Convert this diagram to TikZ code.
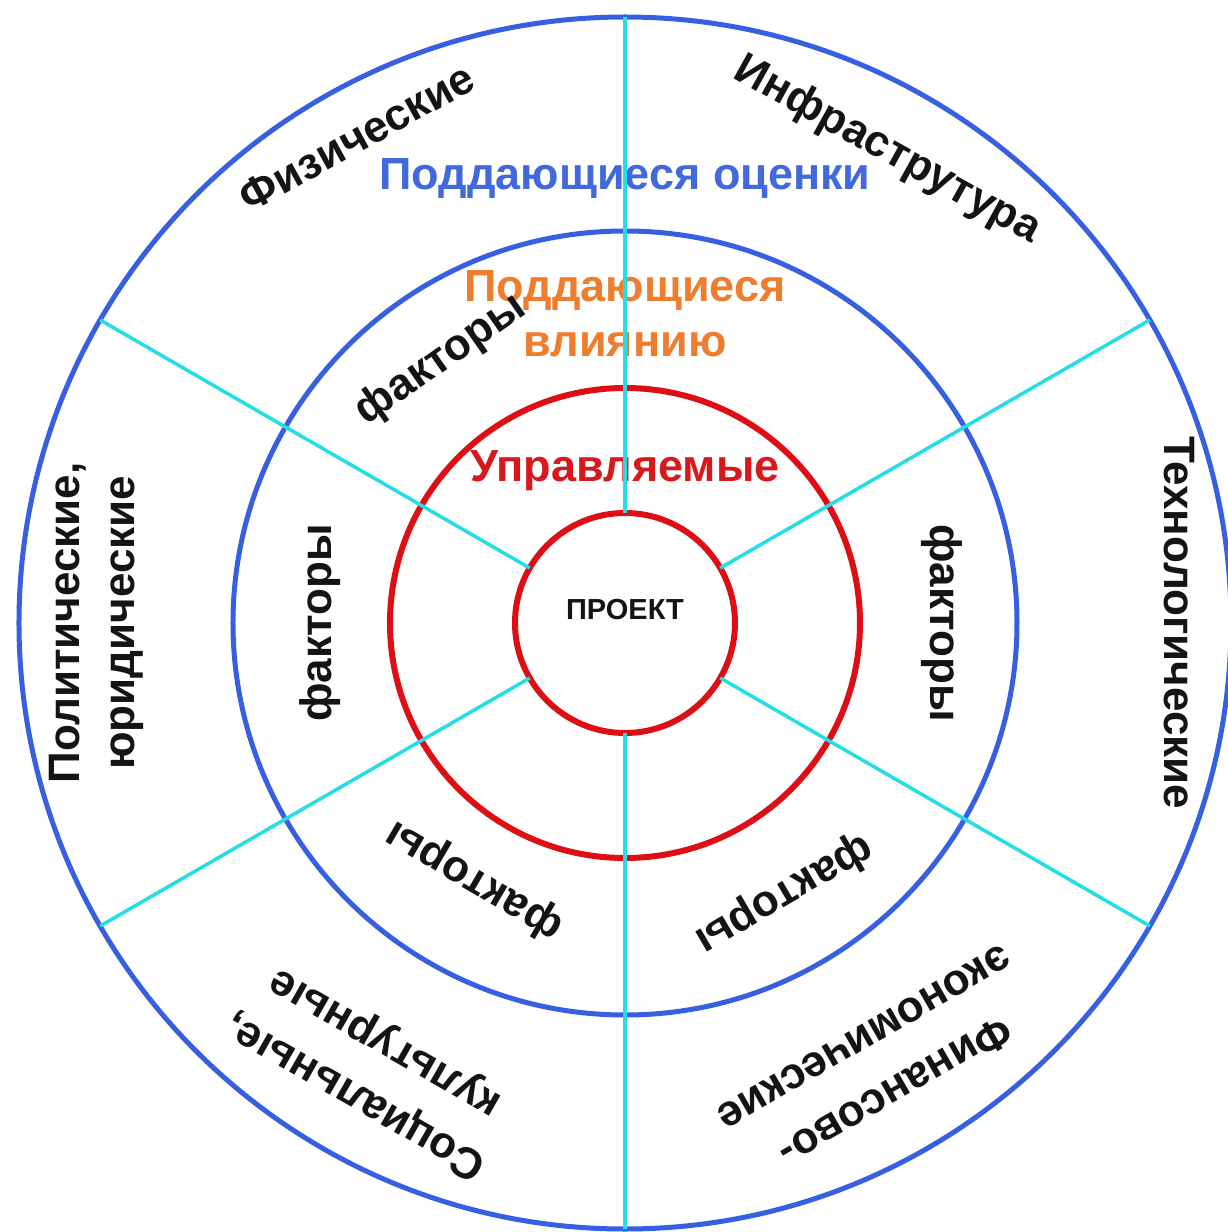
\documentclass[tikz,border=0pt]{standalone}
\usepackage{fontspec}
\setmainfont{Liberation Sans}
\definecolor{cblue}{RGB}{55,95,225}
\definecolor{ctblue}{RGB}{65,105,220}
\definecolor{corange}{RGB}{238,125,45}
\definecolor{cred}{RGB}{222,15,20}
\definecolor{ctred}{RGB}{215,25,30}
\definecolor{ccyan}{RGB}{35,222,228}
\definecolor{cdark}{RGB}{20,20,20}
\begin{document}
\begin{tikzpicture}[x=1pt,y=1pt,
  ringblue/.style={circle, draw=cblue, line width=5pt, inner sep=0pt, outer sep=0pt},
  ringred/.style={circle, draw=cred, line width=6pt, inner sep=0pt, outer sep=0pt},
  spoke/.style={draw=ccyan, line width=3.5pt},
  lbl/.style={font=\bfseries\fontsize{44}{52}\selectfont, inner sep=0pt, text=cdark},
  clbl/.style={font=\bfseries\fontsize{45}{52}\selectfont, inner sep=0pt}]
\useasboundingbox (-625,-609) rectangle (603,623);
\clip (-625,-609) rectangle (603,623);
\fill[white] (-625,-609) rectangle (603,623);
% rings
\node[ringblue, minimum size=1212pt] (c3) at (0,0) {};
\node[ringblue, minimum size=784pt] (c2) at (0,0) {};
\node[ringred, minimum size=470pt] (c1) at (0,0) {};
\node[ringred, minimum size=220pt] (c0) at (0,0) {};
% centre label
\node[font=\bfseries\fontsize{29}{32}\selectfont, text=cdark, inner sep=0pt] (proj) at (0,13) {ПРОЕКТ};
% coloured ring titles
\node[clbl, text=ctblue, anchor=base] (ocen) at (0,433) {Поддающиеся оценки};
\node[clbl, text=corange, anchor=base] (vl1) at (0,321) {Поддающиеся};
\node[clbl, text=corange, anchor=base] (vl2) at (0,266) {влиянию};
\node[clbl, text=ctred, anchor=base] (upr) at (0,141) {Управляемые};
% outer ring labels
\node[lbl, anchor=base, rotate=28.9] (fiz) at (118.9:540) {Физические};
\node[lbl, anchor=base, rotate=-29] (infra) at (61:529) {Инфраструтура};
\node[lbl, anchor=base, rotate=-90] (tech) at (0:539) {Технологические};
\node[lbl, anchor=base, rotate=90] (pol1) at (180:545) {Политические,};
\node[lbl, anchor=base, rotate=90] (pol2) at (180:490) {юридические};
\node[lbl, anchor=base, rotate=150.3] (soc1) at (240.3:533) {Социальные,};
\node[lbl, anchor=base, rotate=150.3] (soc2) at (240.3:472) {культурные};
\node[lbl, anchor=base, rotate=210] (fin1) at (300:527) {Финансово-};
\node[lbl, anchor=base, rotate=210] (fin2) at (300:466) {экономические};
% middle ring labels
\node[lbl, rotate=35] (f1) at (125:321) {факторы};
\node[lbl, rotate=90] (f2) at (180:305) {факторы};
\node[lbl, rotate=149.6] (f3) at (239.6:298) {факторы};
\node[lbl, rotate=210.4] (f4) at (300.4:314) {факторы};
\node[lbl, rotate=-90] (f5) at (0:317) {факторы};
% spokes
\foreach \a in {90,30,330,270,210,150}
  \draw[spoke] (c0.\a) -- (c3.\a);
\end{tikzpicture}
\end{document}
